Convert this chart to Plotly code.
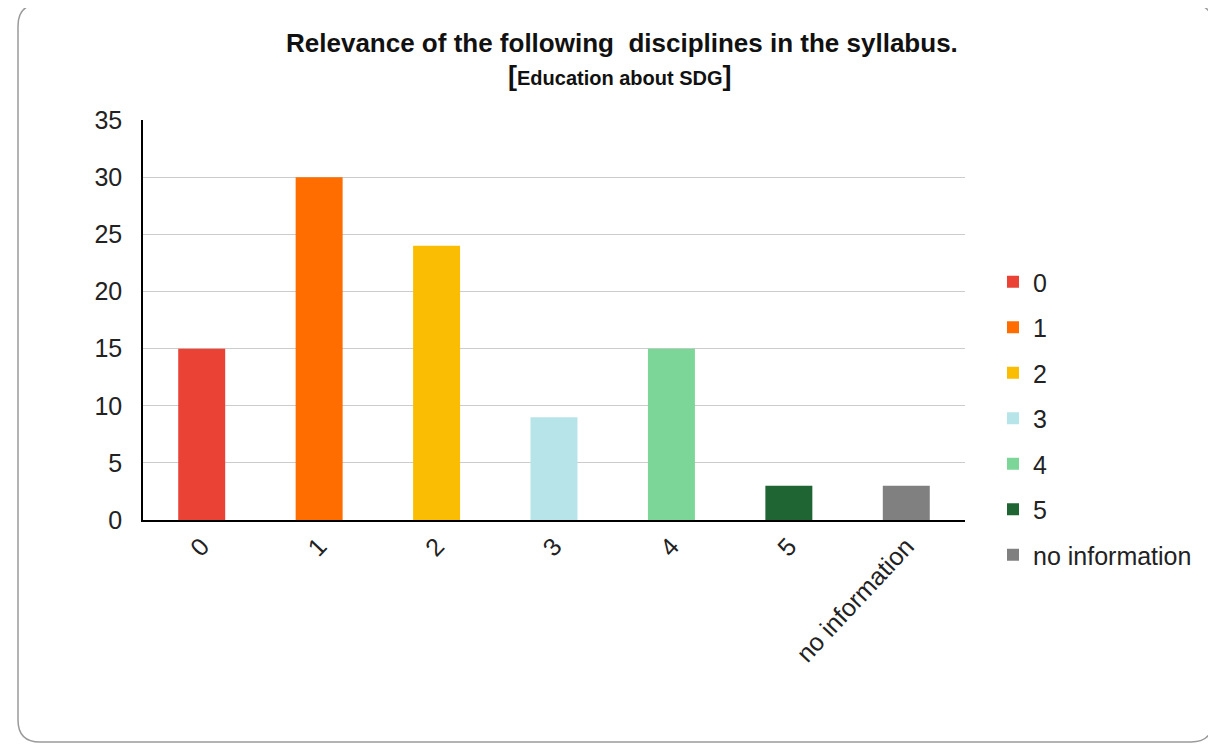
import plotly.graph_objects as go

categories = ["0", "1", "2", "3", "4", "5", "no information"]
values = [15, 30, 24, 9, 15, 3, 3]
colors = ["#EA4335", "#FF6D01", "#FBBC04", "#B7E4E8", "#7CD697", "#1E6533", "#808080"]

W, H = 1216, 745
OFF = 8  # page body offset
L, R, T, B = 143 - OFF, 251 + OFF, 120 - OFF, 225 + OFF
pw, ph = W - L - R, H - T - B

def px_x(x):  # x in screen pixels
    return (x - OFF - L) / pw

def px_y(y):  # y in screen pixels
    return (H - B - (y - OFF)) / ph

fig = go.Figure()
for c, v, col in zip(categories, values, colors):
    fig.add_trace(go.Bar(x=[c], y=[v], name=c, marker_color=col,
                         marker_line_width=0, legendgroup=c))

# rounded border box around the chart
x0, x1, y0, y1, r = 18, 1213, 4, 742, 22
rx, ry = r / pw, r / ph
X0, X1, Y0, Y1 = px_x(x0), px_x(x1), px_y(y1), px_y(y0)
path = (f"M{X0+rx},{Y1} L{X1-rx},{Y1} Q{X1},{Y1} {X1},{Y1-ry} "
        f"L{X1},{Y0+ry} Q{X1},{Y0} {X1-rx},{Y0} L{X0+rx},{Y0} "
        f"Q{X0},{Y0} {X0},{Y0+ry} L{X0},{Y1-ry} Q{X0},{Y1} {X0+rx},{Y1} Z")
fig.add_shape(type="path", path=path, xref="paper", yref="paper",
              line=dict(color="#9a9a9a", width=1.5), layer="below")

fig.add_annotation(text="<b>Relevance of the following  disciplines in the syllabus.</b>",
                   x=px_x(622), y=px_y(43), xref="paper", yref="paper",
                   xanchor="center", yanchor="middle",
                   showarrow=False, font=dict(size=26, color="#111111",
                   family="Liberation Sans, Arial, sans-serif"))
fig.add_annotation(text="<b><span style='font-size:27px'>[</span>Education about SDG<span style='font-size:27px'>]</span></b>",
                   x=px_x(620), y=px_y(76), xref="paper", yref="paper",
                   xanchor="center", yanchor="middle",
                   showarrow=False, font=dict(size=20, color="#111111",
                   family="Liberation Sans, Arial, sans-serif"))

fig.update_layout(
    width=W, height=H,
    margin=dict(l=L, r=R, t=T, b=B),
    paper_bgcolor="white", plot_bgcolor="white",
    barmode="relative", bargap=0.6,
    font=dict(family="Liberation Sans, Arial, sans-serif", size=24, color="#222222"),
    showlegend=True,
    legend=dict(x=px_x(993), y=px_y(259), xanchor="left", yanchor="top",
                font=dict(size=25, color="#222222"), tracegroupgap=10,
                itemwidth=30, bgcolor="rgba(0,0,0,0)"),
    xaxis=dict(tickangle=-47, showline=True, linecolor="#000000", linewidth=1.5,
               showgrid=False, ticks="", tickfont=dict(size=25)),
    yaxis=dict(range=[0, 35.02], tickvals=[0, 5, 10, 15, 20, 25, 30, 35],
               showline=True, linecolor="#000000", linewidth=1.5,
               showgrid=True, gridcolor="#cccccc", gridwidth=1.2, ticks="",
               tickfont=dict(size=25), zeroline=False, ticklabelstandoff=14),
)

fig.write_html("out.html")
